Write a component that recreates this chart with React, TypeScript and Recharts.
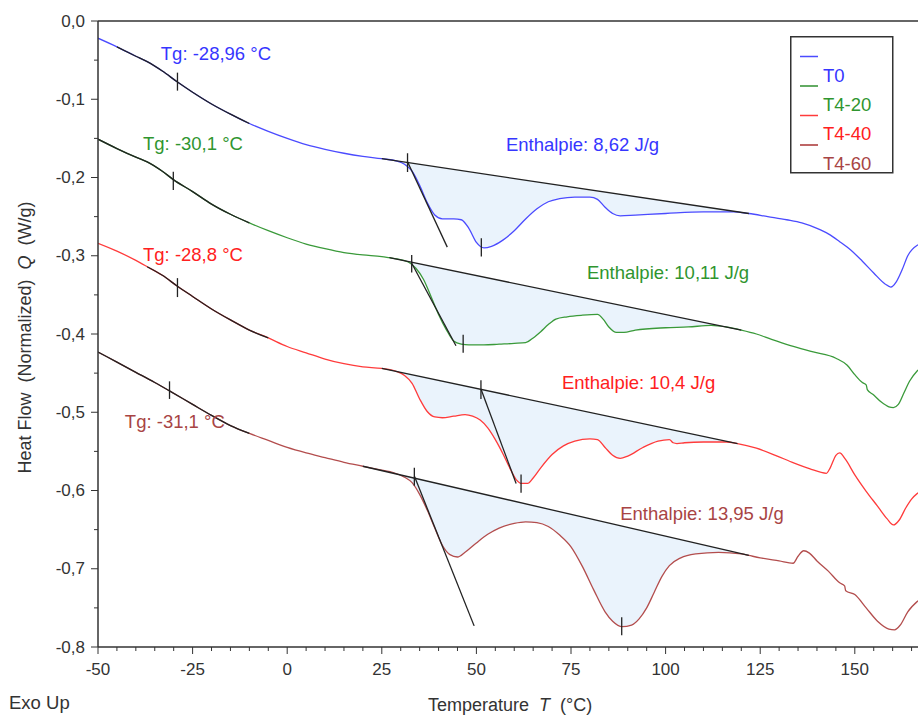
import {
  Area,
  ComposedChart,
  Label,
  Legend,
  Line,
  ReferenceDot,
  ReferenceLine,
  XAxis,
  YAxis,
} from "recharts";

const FONT = '"Liberation Sans", Arial, sans-serif';

// DSC traces, temperature in °C and normalized heat flow in W/g
const t0Temp = [-50, -45, -40, -37, -33, -29, -25, -20, -15, -10, -5, 0, 5, 10, 15, 20, 25, 29, 31, 33, 35, 37, 39, 41, 44, 46, 48, 50, 52, 54, 57, 60, 63, 66, 69, 72, 76, 80, 82, 84, 86, 88, 92, 100, 110, 118, 122, 127, 132, 136, 140, 143, 146, 149, 152, 155, 158, 159.5, 161, 162.5, 164, 166.7];
const t0Heat = [-0.022, -0.033, -0.045, -0.052, -0.064, -0.078, -0.091, -0.106, -0.119, -0.131, -0.141, -0.15, -0.158, -0.164, -0.169, -0.173, -0.176, -0.179, -0.183, -0.192, -0.21, -0.232, -0.248, -0.253, -0.253, -0.254, -0.265, -0.283, -0.29, -0.288, -0.28, -0.268, -0.253, -0.24, -0.231, -0.227, -0.225, -0.225, -0.228, -0.238, -0.246, -0.249, -0.248, -0.246, -0.244, -0.244, -0.246, -0.25, -0.254, -0.258, -0.265, -0.272, -0.282, -0.293, -0.307, -0.322, -0.336, -0.34, -0.333, -0.318, -0.3, -0.286];

const t420Temp = [-50, -45, -40, -37, -33, -30, -25, -20, -15, -10, -5, 0, 5, 10, 15, 20, 25, 27, 29, 32, 34, 36, 38, 40, 42, 44, 46, 48, 52, 56, 60, 63, 65, 67, 69, 71, 74, 78, 82, 83.5, 85, 87, 89, 92, 100, 106, 112, 116, 120, 124, 128, 133, 139, 145, 148, 150, 152, 153, 153.3, 155, 157, 159, 160.2, 161.5, 163, 164.5, 166.7];
const t420Heat = [-0.151, -0.163, -0.174, -0.18, -0.192, -0.203, -0.218, -0.234, -0.247, -0.258, -0.268, -0.277, -0.285, -0.291, -0.296, -0.299, -0.301, -0.3025, -0.304, -0.308, -0.316, -0.33, -0.352, -0.375, -0.394, -0.409, -0.413, -0.414, -0.414, -0.413, -0.412, -0.411, -0.405, -0.397, -0.388, -0.381, -0.378, -0.376, -0.375, -0.381, -0.391, -0.398, -0.398, -0.395, -0.392, -0.391, -0.389, -0.391, -0.395, -0.4, -0.407, -0.415, -0.423, -0.431, -0.44, -0.452, -0.462, -0.465, -0.471, -0.478, -0.487, -0.493, -0.494, -0.49, -0.475, -0.46, -0.446];

const t440Temp = [-50, -45, -40, -37, -33, -29, -25, -20, -15, -10, -5, 0, 5, 10, 15, 20, 25, 29, 31, 33, 35, 37, 39, 41, 44, 47, 49, 51, 53, 55, 57, 59, 60.5, 62, 63.5, 65, 67, 70, 73, 76, 80, 82, 84, 86, 88, 90, 94, 98, 101, 102, 103, 105, 110, 116, 119, 124, 129, 134, 138, 142.5, 143.5, 145, 146, 147.5, 150, 153, 156, 158.5, 160.2, 161.7, 163.5, 165, 166.7];
const t440Heat = [-0.284, -0.294, -0.306, -0.314, -0.325, -0.339, -0.352, -0.368, -0.382, -0.395, -0.405, -0.416, -0.424, -0.432, -0.438, -0.442, -0.444, -0.448, -0.453, -0.463, -0.483, -0.499, -0.506, -0.507, -0.505, -0.503, -0.505, -0.51, -0.52, -0.535, -0.553, -0.573, -0.586, -0.591, -0.591, -0.584, -0.571, -0.554, -0.543, -0.537, -0.534, -0.535, -0.545, -0.555, -0.559, -0.556, -0.545, -0.537, -0.535, -0.539, -0.54, -0.539, -0.538, -0.538, -0.54, -0.546, -0.555, -0.565, -0.572, -0.578, -0.571, -0.555, -0.552, -0.56, -0.58, -0.601, -0.62, -0.636, -0.644, -0.638, -0.622, -0.611, -0.603];

const t460Temp = [-50, -45, -40, -35, -31, -25, -20, -15, -10, -5, 0, 5, 10, 15, 20, 25, 28, 31, 33, 35, 37, 39, 41, 43, 45, 47, 50, 53, 56, 60, 63, 66, 69, 72, 75, 78, 81, 84, 86, 88.5, 91, 93, 95, 97, 99, 101, 104, 108, 114, 120, 122, 125, 130, 133.7, 135, 136.5, 138, 140, 143, 146, 147.3, 147.6, 150, 153, 156, 159, 160.5, 162, 164, 166.7];
const t460Heat = [-0.423, -0.436, -0.449, -0.462, -0.473, -0.49, -0.504, -0.517, -0.527, -0.536, -0.545, -0.552, -0.558, -0.564, -0.569, -0.574, -0.577, -0.583, -0.59, -0.605, -0.625, -0.648, -0.67, -0.682, -0.685, -0.679, -0.667, -0.656, -0.648, -0.642, -0.64, -0.641, -0.646, -0.657, -0.672, -0.697, -0.727, -0.755, -0.767, -0.774, -0.772, -0.764, -0.75, -0.73, -0.71, -0.696, -0.686, -0.681, -0.679, -0.681, -0.683, -0.686, -0.69, -0.693, -0.684, -0.677, -0.68, -0.69, -0.703, -0.718, -0.722, -0.728, -0.733, -0.75, -0.767, -0.777, -0.778, -0.772, -0.755, -0.741];

const seriesNames = ["T0", "T4-20", "T4-40", "T4-60"];
const seriesTemps = [t0Temp, t420Temp, t440Temp, t460Temp];
const seriesHeats = [t0Heat, t420Heat, t440Heat, t460Heat];

// analysis results
const baselines = [
  [[25, -0.176], [122, -0.246]],
  [[27, -0.3025], [120, -0.395]],
  [[25, -0.444], [119, -0.54]],
  [[20, -0.569], [122, -0.683]],
];
const tangents = [
  [[31.8, -0.1798], [42.3, -0.289]],
  [[32.9, -0.3095], [44.6, -0.415]],
  [[51.2, -0.4703], [60.5, -0.591]],
  [[33.6, -0.5816], [49.4, -0.773]],
];
// [temperature, top, bottom]
const tgTicks = [[-29.0, -0.066, -0.089], [-30.1, -0.1926, -0.216], [-29.0, -0.3286, -0.3528], [-31.1, -0.4605, -0.483]];
const onsetTicks = [[31.8, -0.169, -0.193], [32.9, -0.299, -0.3214], [51.2, -0.459, -0.483], [33.6, -0.571, -0.594]];
const peakTicks = [[51.3, -0.2775, -0.301], [46.5, -0.401, -0.424], [61.8, -0.5795, -0.603], [88.4, -0.762, -0.785]];
const fitRanges = [[-47, -10], [-50, -10], [-38, -5], [-50, -7]];

const tgTexts = ["Tg: -28,96 °C", "Tg: -30,1 °C", "Tg: -28,8 °C", "Tg: -31,1 °C"];
const enthalpyTexts = ["Enthalpie: 8,62 J/g", "Enthalpie: 10,11 J/g", "Enthalpie: 10,4 J/g", "Enthalpie: 13,95 J/g"];

const xTicks = [-50, -45, -40, -35, -30, -25, -20, -15, -10, -5, 0, 5, 10, 15, 20, 25, 30, 35, 40, 45, 50, 55, 60, 65, 70, 75, 80, 85, 90, 95, 100, 105, 110, 115, 120, 125, 130, 135, 140, 145, 150, 155, 160, 165];
const yTicks = [0, -0.05, -0.1, -0.15, -0.2, -0.25, -0.3, -0.35, -0.4, -0.45, -0.5, -0.55, -0.6, -0.65, -0.7, -0.75, -0.8];

// where the annotation texts sit (data coordinates)
const tgTextAt = [[-33.4, -0.0412], [-38.1, -0.156], [-38.1, -0.2988], [-42.9, -0.5118]];
const enthalpyTextAt = [[57.8, -0.1573], [79.2, -0.3218], [72.6, -0.4621], [88.0, -0.6292]];

const lineColors = ["#4b4bff", "#3a9a3a", "#ff3b3b", "#b34d4d"];
const textColors = ["#3636ff", "#2f952f", "#ff2020", "#a84444"];
const legendColors = ["#4b4bff", "#2f8f2f", "#ff3b3b", "#a83232"];
const FILL = "#eaf3fc";
const INK = "#222";
const NOTE_SIZE = 18.5;

const curves = seriesTemps.map((ts, i) => ts.map((t, j) => ({ t, q: seriesHeats[i][j] })));

const fits = curves.map((pts, i) =>
  pts.filter((p) => p.t >= fitRanges[i][0] && p.t <= fitRanges[i][1])
);

const fills = curves.map((pts, i) => {
  const [[t1, q1], [t2, q2]] = baselines[i];
  return pts
    .filter((p) => p.t >= t1 && p.t <= t2)
    .map((p) => ({ t: p.t, range: [q1 + ((q2 - q1) * (p.t - t1)) / (t2 - t1), p.q] }));
});

function XTick({ x, y, payload }: any) {
  const v = payload.value;
  const major = v % 25 === 0;
  return (
    <g>
      <line x1={x} y1={y} x2={x} y2={y + (major ? 7 : 4)} stroke="#333" />
      {major && (
        <text x={x} y={y + 28} textAnchor="middle" fontSize={17} fill="#333" fontFamily={FONT}>
          {v}
        </text>
      )}
    </g>
  );
}

function YTick({ x, y, payload }: any) {
  const v = payload.value;
  const major = Math.abs(Math.round(v * 100)) % 10 === 0;
  return (
    <g>
      <line x1={x - (major ? 7 : 4)} y1={y} x2={x} y2={y} stroke="#333" />
      {major && (
        <text x={x - 13} y={y} textAnchor="end" dominantBaseline="central" fontSize={17} fill="#333" fontFamily={FONT}>
          {v.toFixed(1).replace(".", ",")}
        </text>
      )}
    </g>
  );
}

function XTitle(props: any) {
  const vb = props.viewBox ?? { x: 98, y: 647, width: 820, height: 68 };
  const base = vb.y + 64;
  return (
    <g fontFamily={FONT} fill="#333">
      <text x={vb.x + vb.width / 2 + 2} y={base} textAnchor="middle" fontSize={18} style={{ whiteSpace: "pre" }}>
        {"Temperature  "}
        <tspan fontStyle="italic">T</tspan>
        {"  (°C)"}
      </text>
      <text x={vb.x - 89} y={base - 2} fontSize={18.5}>
        Exo Up
      </text>
    </g>
  );
}

function YTitle(props: any) {
  const vb = props.viewBox ?? { x: 0, y: 21, width: 98, height: 626 };
  const cx = vb.x + 25;
  const cy = vb.y + vb.height / 2 + 3.5;
  return (
    <text
      x={cx}
      y={cy}
      transform={`rotate(-90 ${cx} ${cy})`}
      textAnchor="middle"
      dominantBaseline="central"
      fontFamily={FONT}
      fontSize={18}
      fill="#333"
      style={{ whiteSpace: "pre" }}
    >
      {"Heat Flow  (Normalized)  "}
      <tspan fontStyle="italic">Q</tspan>
      {"  (W/g)"}
    </text>
  );
}

function LegendBox() {
  return (
    <svg width={104} height={138} style={{ display: "block" }}>
      <rect x={0.75} y={0.75} width={102} height={136} fill="#fff" stroke="#333" strokeWidth={1.5} />
      {seriesNames.map((name, i) => (
        <g key={name}>
          <line x1={10} x2={28} y1={20.5 + i * 29.5} y2={20.5 + i * 29.5} stroke={legendColors[i]} strokeWidth={1.5} />
          <text x={33} y={39 + i * 29.4} dominantBaseline="central" fill={textColors[i]} fontSize={NOTE_SIZE} fontFamily={FONT}>
            {name}
          </text>
        </g>
      ))}
    </svg>
  );
}

export default function App() {
  return (
    <div style={{ position: "absolute", left: 0, top: 0, width: 918, height: 715, background: "#fff" }}>
      <ComposedChart width={918} height={715} margin={{ top: 21, right: 0, bottom: 0, left: 0 }}>
        <XAxis
          dataKey="t"
          type="number"
          domain={[-50, 166.7]}
          allowDataOverflow
          ticks={xTicks}
          interval={0}
          height={68}
          tickSize={0}
          tickMargin={0}
          tickLine={false}
          tick={<XTick />}
          axisLine={{ stroke: "#333", strokeWidth: 1.5 }}
        >
          <Label content={<XTitle />} />
        </XAxis>
        <YAxis
          type="number"
          domain={[-0.8, 0]}
          allowDataOverflow
          ticks={yTicks}
          interval={0}
          width={98}
          tickSize={0}
          tickMargin={0}
          tickLine={false}
          tick={<YTick />}
          axisLine={{ stroke: "#333", strokeWidth: 1.5 }}
        >
          <Label content={<YTitle />} />
        </YAxis>
        <Legend
          layout="horizontal"
          verticalAlign="middle"
          align="center"
          wrapperStyle={{ left: 790, top: 36, width: 104, height: 138 }}
          content={() => <LegendBox />}
        />
        <ReferenceLine y={0} stroke="#333" strokeWidth={1.5} ifOverflow="visible" />

        {fills.map((d, i) => (
          <Area
            key={`fill-${i}`}
            data={d}
            dataKey="range"
            type="monotone"
            stroke="none"
            fill={FILL}
            fillOpacity={1}
            isAnimationActive={false}
            legendType="none"
          />
        ))}
        {curves.map((d, i) => (
          <Line
            key={seriesNames[i]}
            name={seriesNames[i]}
            data={d}
            dataKey="q"
            type="monotone"
            stroke={lineColors[i]}
            strokeWidth={1.3}
            dot={false}
            isAnimationActive={false}
          />
        ))}
        {fits.map((d, i) => (
          <Line
            key={`fit-${i}`}
            data={d}
            dataKey="q"
            type="monotone"
            stroke={INK}
            strokeWidth={1.3}
            dot={false}
            isAnimationActive={false}
            legendType="none"
          />
        ))}

        {baselines.map((b, i) => (
          <ReferenceLine
            key={`base-${i}`}
            segment={[{ x: b[0][0], y: b[0][1] }, { x: b[1][0], y: b[1][1] }]}
            stroke={INK}
            strokeWidth={1.3}
            ifOverflow="visible"
          />
        ))}
        {tangents.map((b, i) => (
          <ReferenceLine
            key={`tan-${i}`}
            segment={[{ x: b[0][0], y: b[0][1] }, { x: b[1][0], y: b[1][1] }]}
            stroke={INK}
            strokeWidth={1.3}
            ifOverflow="visible"
          />
        ))}
        {[...tgTicks, ...onsetTicks, ...peakTicks].map((k, i) => (
          <ReferenceLine
            key={`tick-${i}`}
            segment={[{ x: k[0], y: k[1] }, { x: k[0], y: k[2] }]}
            stroke={INK}
            strokeWidth={1.3}
            ifOverflow="visible"
          />
        ))}

        {tgTexts.map((s, i) => (
          <ReferenceDot
            key={`tg-${i}`}
            x={tgTextAt[i][0]}
            y={tgTextAt[i][1]}
            r={0}
            stroke="none"
            fill="none"
            label={{ value: s, position: "right", offset: 0, fill: textColors[i], fontSize: NOTE_SIZE, fontFamily: FONT }}
          />
        ))}
        {enthalpyTexts.map((s, i) => (
          <ReferenceDot
            key={`dh-${i}`}
            x={enthalpyTextAt[i][0]}
            y={enthalpyTextAt[i][1]}
            r={0}
            stroke="none"
            fill="none"
            label={{ value: s, position: "right", offset: 0, fill: textColors[i], fontSize: NOTE_SIZE, fontFamily: FONT }}
          />
        ))}
      </ComposedChart>
    </div>
  );
}
